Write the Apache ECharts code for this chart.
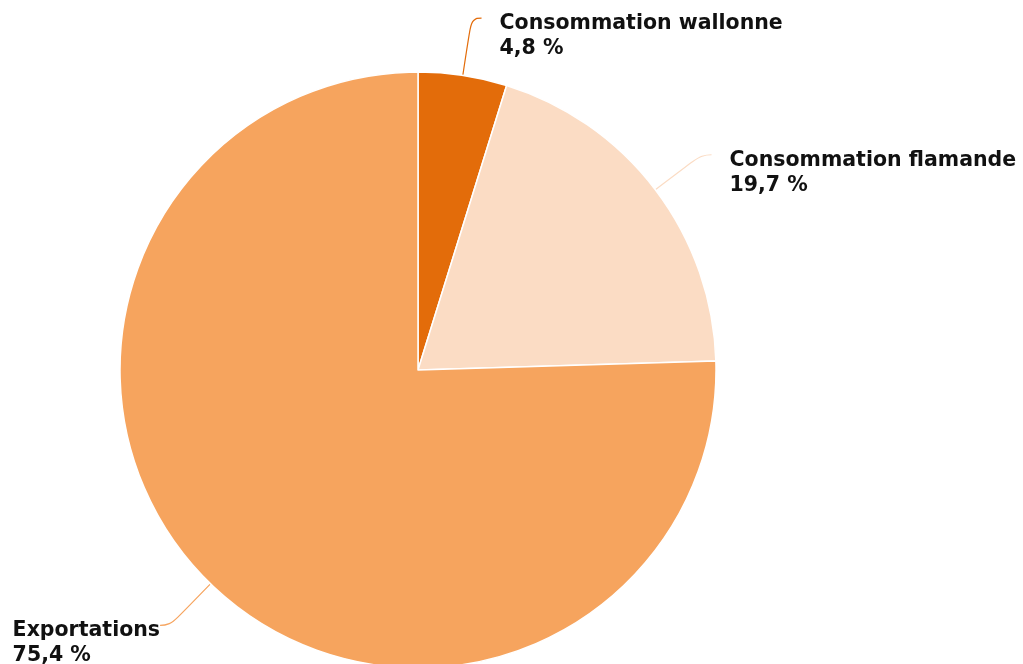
<!DOCTYPE html>
<html>
<head>
<meta charset="utf-8">
<script src="https://cdn.jsdelivr.net/npm/echarts@6/dist/echarts.min.js"></script>
<style>
  html, body { margin: 0; padding: 0; background: #fff; }
  #chart { width: 1023px; height: 664px; }
</style>
</head>
<body>
<div id="chart"></div>
<script>
// Données du graphique
const categories = ['Consommation wallonne', 'Consommation flamande', 'Exportations'];
const values = [4.8, 19.7, 75.4];
const colors = ['#E36C0A', '#FBDCC4', '#F6A45E'];

const chart = echarts.init(document.getElementById('chart'));

chart.setOption({
    animation: false,
    series: [{
        type: 'pie',
        center: [418, 370],
        radius: 298,
        startAngle: 90,
        clockwise: true,
        avoidLabelOverlap: false,
        data: categories.map((name, i) => ({
            name: name,
            value: values[i],
            itemStyle: { color: colors[i] },
            // côté gauche : le texte touche la ligne
            label: i === 2 ? { distanceToLabelLine: 0 } : {}
        })),
        itemStyle: { borderColor: '#fff', borderWidth: 1.5 },
        label: {
            show: true,
            position: 'outside',
            distanceToLabelLine: 18,
            formatter: p => `{b|${p.name}}\n{b|${p.value.toFixed(1).replace('.', ',')} %}`,
            padding: [36, 0, 0, 0],
            rich: {
                b: {
                    fontFamily: 'DejaVu Sans',
                    fontWeight: 'bold',
                    fontSize: 20.5,
                    lineHeight: 25,
                    align: 'left',
                    color: '#111'
                }
            }
        },
        labelLine: {
            show: true,
            length: 58,
            length2: 10,
            smooth: 0.5,
            lineStyle: { width: 1.2 }
        },
        emphasis: { disabled: true }
    }]
});

window.addEventListener('resize', () => chart.resize());
</script>
</body>
</html>
